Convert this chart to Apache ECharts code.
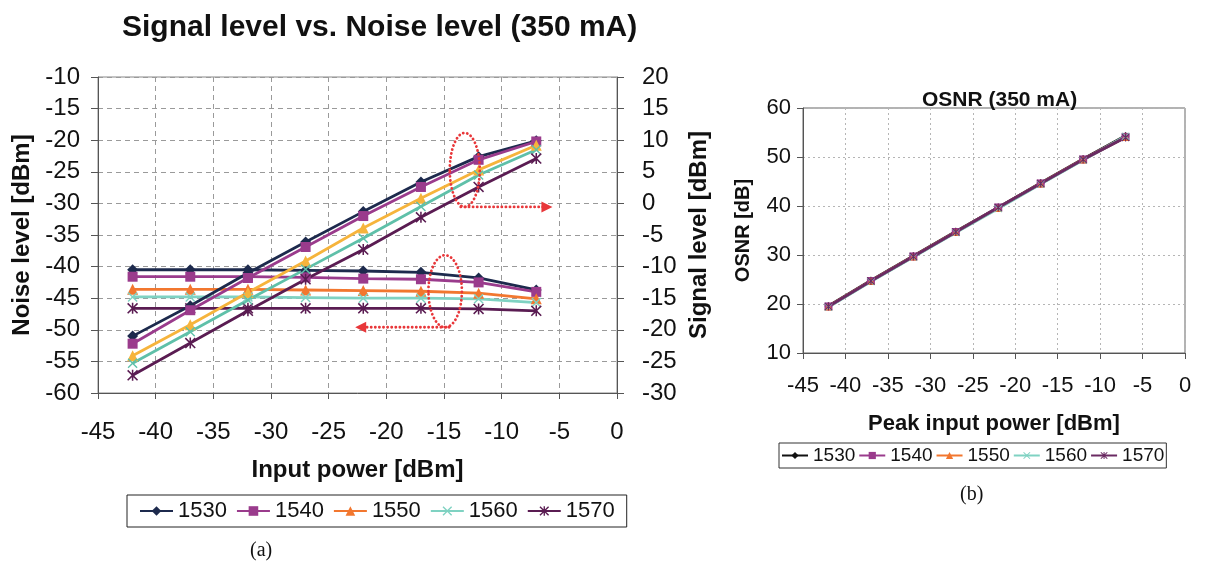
<!DOCTYPE html>
<html>
<head>
<meta charset="utf-8">
<script src="https://cdn.jsdelivr.net/npm/echarts@6/dist/echarts.min.js"></script>
<style>
  html, body { margin: 0; padding: 0; background: #ffffff; }
  #levels { position: absolute; left: 0; top: 0; width: 720px; height: 570px; }
  #osnr { position: absolute; left: 720px; top: 0; width: 488px; height: 570px; }
  .cap { position: absolute; font-family: 'Liberation Serif', 'Times New Roman', serif; font-size: 20px; color: #111; }
</style>
</head>
<body>
<div id="levels"></div>
<div id="osnr"></div>
<div class="cap" style="left:250px; top:538px;">(a)</div>
<div class="cap" style="left:960px; top:482px;">(b)</div>
<script>
// Input power sweep [dBm]
const inputPower = [-42, -37, -32, -27, -22, -17, -12, -7];
const channels = ['1530', '1540', '1550', '1560', '1570'];

// Noise level [dBm] per channel (left axis)
const noise1530 = [-40.5, -40.5, -40.5, -40.6, -40.7, -40.9, -41.8, -43.7];
const noise1540 = [-41.6, -41.6, -41.6, -41.7, -41.9, -42.0, -42.5, -44.0];
const noise1550 = [-43.6, -43.6, -43.6, -43.7, -43.8, -43.9, -44.2, -45.1];
const noise1560 = [-44.8, -44.8, -44.8, -44.9, -45.0, -45.0, -45.1, -45.7];
const noise1570 = [-46.6, -46.6, -46.6, -46.6, -46.6, -46.6, -46.7, -47.0];

// Signal level [dBm] per channel (right axis)
const signal1530 = [-21.0, -16.2, -11.0, -6.1, -1.3, 3.4, 7.4, 9.9];
const signal1540 = [-22.2, -16.9, -11.8, -6.9, -2.0, 2.6, 6.9, 9.8];
const signal1550 = [-24.1, -19.2, -14.1, -9.1, -3.9, 0.8, 5.3, 9.2];
const signal1560 = [-25.3, -20.3, -15.3, -10.4, -5.5, -0.5, 4.5, 8.5];
const signal1570 = [-27.2, -22.1, -17.0, -12.0, -7.3, -2.2, 2.6, 7.1];

// OSNR [dB] per channel
const osnr1530 = [19.6, 24.8, 29.8, 34.8, 39.7, 44.7, 49.6, 54.3];
const osnr1540 = [19.5, 24.7, 29.7, 34.7, 39.7, 44.6, 49.5, 54.1];
const osnr1550 = [19.5, 24.7, 29.7, 34.7, 39.6, 44.6, 49.5, 54.1];
const osnr1560 = [19.4, 24.6, 29.6, 34.6, 39.5, 44.5, 49.4, 54.2];
const osnr1570 = [19.5, 24.7, 29.7, 34.7, 39.7, 44.6, 49.5, 54.0];

// Axis ticks
const powerTicks = { min: -45, max: 0, step: 5 };
const noiseTicks = { min: -60, max: -10, step: 5 };
const signalTicks = { min: -30, max: 20, step: 5 };
const osnrTicks = { min: 10, max: 60, step: 10 };

// Callout ellipses (data units on the noise axis) with horizontal arrows
const callouts = [
  { x: -13.2, y: -24.7, rx: 1.3, ry: 5.85, arrowTo: -5.6 },
  { x: -14.9, y: -43.9, rx: 1.45, ry: 5.7, arrowTo: -22.7 }
];

const FONT = "'Liberation Sans', Arial, sans-serif";
const RED = '#E8373A';
const CROSS = 'path://M1,0 L5,4 L9,0 L10,1 L6,5 L10,9 L9,10 L5,6 L1,10 L0,9 L4,5 L0,1 Z';
const STAR = 'path://M1,0 L5,4 L9,0 L10,1 L6,5 L10,9 L9,10 L5,6 L1,10 L0,9 L4,5 L0,1 Z M4.3,0 L5.7,0 L5.7,10 L4.3,10 Z';

const symbols = { '1530': 'diamond', '1540': 'rect', '1550': 'triangle', '1560': CROSS, '1570': STAR };
const symbolSizes = { '1530': 11, '1540': 10, '1550': 11, '1560': 10, '1570': 11 };

const noiseColors = { '1530': '#1D2A4D', '1540': '#9A3B8C', '1550': '#F2772F', '1560': '#7FD2C2', '1570': '#5A1C52' };
const signalColors = { '1530': '#1D2A4D', '1540': '#9A3B8C', '1550': '#F6B43C', '1560': '#5FC0A9', '1570': '#5A1C52' };
const osnrColors = { '1530': '#111111', '1540': '#9A3B8C', '1550': '#F2772F', '1560': '#7FD2C2', '1570': '#6A2A62' };

const noiseData = { '1530': noise1530, '1540': noise1540, '1550': noise1550, '1560': noise1560, '1570': noise1570 };
const signalData = { '1530': signal1530, '1540': signal1540, '1550': signal1550, '1560': signal1560, '1570': signal1570 };
const osnrData = { '1530': osnr1530, '1540': osnr1540, '1550': osnr1550, '1560': osnr1560, '1570': osnr1570 };

const pairs = (ys) => inputPower.map((x, i) => [x, ys[i]]);

function lineSeries(name, values, color, yAxisIndex, size, width) {
  return {
    type: 'line', name, yAxisIndex,
    data: pairs(values),
    symbol: symbols[name], symbolSize: size,
    showSymbol: true, animation: false,
    lineStyle: { color, width },
    itemStyle: { color, borderWidth: 0 },
    emphasis: { disabled: true }
  };
}

const tickLabel = (size) => ({ fontFamily: FONT, fontSize: size, color: '#111' });
const nameStyle = (size) => ({ fontFamily: FONT, fontSize: size, fontWeight: 'bold', color: '#111' });

// ---------- Signal / noise chart ----------
const levels = echarts.init(document.getElementById('levels'), null, { renderer: 'canvas' });
const levelSeries = [];
channels.forEach(c => levelSeries.push(lineSeries(c, noiseData[c], noiseColors[c], 0, symbolSizes[c], 2.8)));
channels.forEach(c => levelSeries.push(lineSeries(c, signalData[c], signalColors[c], 1, symbolSizes[c], 2.8)));

levels.setOption({
  animation: false,
  title: {
    text: 'Signal level vs. Noise level (350 mA)',
    left: 117, top: 8,
    textStyle: { fontFamily: FONT, fontSize: 30, fontWeight: 'bold', color: '#111' }
  },
  grid: { left: 98, top: 77, width: 519, height: 316, show: true, borderColor: '#888', borderWidth: 1, containLabel: false },
  legend: {
    data: channels,
    left: 127, top: 495,
    padding: [5, 12],
    itemWidth: 33, itemHeight: 12, itemGap: 9,
    borderColor: '#222', borderWidth: 1,
    textStyle: { fontFamily: FONT, fontSize: 22, color: '#111' },
    selectedMode: false
  },
  xAxis: {
    type: 'value', min: powerTicks.min, max: powerTicks.max, interval: powerTicks.step,
    name: 'Input power [dBm]', nameLocation: 'middle', nameGap: 65, nameTextStyle: nameStyle(24),
    axisLine: { show: true, onZero: false, lineStyle: { color: '#555', width: 1 } },
    axisTick: { show: true, inside: false, length: 6, lineStyle: { color: '#555' } },
    axisLabel: Object.assign({ margin: 27 }, tickLabel(24)),
    splitLine: { show: true, lineStyle: { color: '#9a9a9a', type: [5, 4], width: 1 } }
  },
  yAxis: [
    {
      type: 'value', position: 'left', min: noiseTicks.min, max: noiseTicks.max, interval: noiseTicks.step,
      name: 'Noise level [dBm]', nameLocation: 'middle', nameRotate: 90, nameGap: 64, nameTextStyle: nameStyle(24),
      axisLine: { show: true, onZero: false, lineStyle: { color: '#555', width: 1 } },
      axisTick: { show: true, length: 7, lineStyle: { color: '#555' } },
      axisLabel: Object.assign({ margin: 18 }, tickLabel(24)),
      splitLine: { show: true, lineStyle: { color: '#9a9a9a', type: [5, 4], width: 1 } }
    },
    {
      type: 'value', position: 'right', min: signalTicks.min, max: signalTicks.max, interval: signalTicks.step,
      name: 'Signal level [dBm]', nameLocation: 'middle', nameRotate: 90, nameGap: 66, nameTextStyle: nameStyle(24),
      axisLine: { show: true, onZero: false, lineStyle: { color: '#555', width: 1 } },
      axisTick: { show: true, length: 7, lineStyle: { color: '#555' } },
      axisLabel: Object.assign({ margin: 25 }, tickLabel(24)),
      splitLine: { show: false }
    }
  ],
  series: levelSeries
});

function drawCallouts() {
  const toPx = (x, y) => levels.convertToPixel({ xAxisIndex: 0, yAxisIndex: 0 }, [x, y]);
  const dotted = { fill: null, stroke: RED, lineWidth: 2.8, lineDash: [0.1, 4], lineCap: 'round' };
  const els = [];
  callouts.forEach(c => {
    const [cx, cy] = toPx(c.x, c.y);
    const [ex, ey] = toPx(c.x + c.rx, c.y - c.ry);
    const rx = ex - cx, ry = ey - cy;
    const [tipX] = toPx(c.arrowTo, c.y);
    const by = cy + ry;
    const dir = Math.sign(tipX - cx);
    els.push({ type: 'ellipse', silent: true, z: 100, shape: { cx, cy, rx, ry }, style: dotted });
    els.push({ type: 'line', silent: true, z: 100, shape: { x1: cx - dir * 4, y1: by, x2: tipX - dir * 9, y2: by }, style: dotted });
    els.push({ type: 'polygon', silent: true, z: 100,
      shape: { points: [[tipX, by], [tipX - dir * 11, by - 5.5], [tipX - dir * 11, by + 5.5]] },
      style: { fill: RED, stroke: null } });
  });
  levels.setOption({ graphic: els });
}
drawCallouts();

// ---------- OSNR chart ----------
const osnr = echarts.init(document.getElementById('osnr'), null, { renderer: 'canvas' });
const osnrSeries = channels.map(c => lineSeries(c, osnrData[c], osnrColors[c], 0, 8, 3));

osnr.setOption({
  animation: false,
  title: {
    text: 'OSNR (350 mA)',
    left: 197, top: 85,
    textStyle: { fontFamily: FONT, fontSize: 21, fontWeight: 'bold', color: '#111' }
  },
  grid: { left: 83, top: 108, width: 382, height: 245, show: true, borderColor: '#666', borderWidth: 1, containLabel: false },
  legend: {
    data: channels,
    left: 59, top: 443,
    padding: [3, 2],
    itemWidth: 26, itemHeight: 9, itemGap: 3,
    borderColor: '#333', borderWidth: 1,
    textStyle: { fontFamily: FONT, fontSize: 19, color: '#111' },
    selectedMode: false
  },
  xAxis: {
    type: 'value', min: powerTicks.min, max: powerTicks.max, interval: powerTicks.step,
    name: 'Peak input power [dBm]', nameLocation: 'middle', nameGap: 60, nameTextStyle: nameStyle(22),
    axisLine: { show: true, onZero: false, lineStyle: { color: '#555' } },
    axisTick: { show: true, length: 6, lineStyle: { color: '#555' } },
    axisLabel: Object.assign({ margin: 22 }, tickLabel(22)),
    splitLine: { show: true, lineStyle: { color: '#b5b5b5', type: [2, 3], width: 1 } }
  },
  yAxis: {
    type: 'value', min: osnrTicks.min, max: osnrTicks.max, interval: osnrTicks.step,
    name: 'OSNR [dB]', nameLocation: 'middle', nameRotate: 90, nameGap: 50, nameTextStyle: nameStyle(20),
    axisLine: { show: true, onZero: false, lineStyle: { color: '#555' } },
    axisTick: { show: true, length: 6, lineStyle: { color: '#555' } },
    axisLabel: Object.assign({ margin: 12 }, tickLabel(22)),
    splitLine: { show: true, lineStyle: { color: '#b5b5b5', type: [2, 3], width: 1 } }
  },
  series: osnrSeries
});
</script>
</body>
</html>
